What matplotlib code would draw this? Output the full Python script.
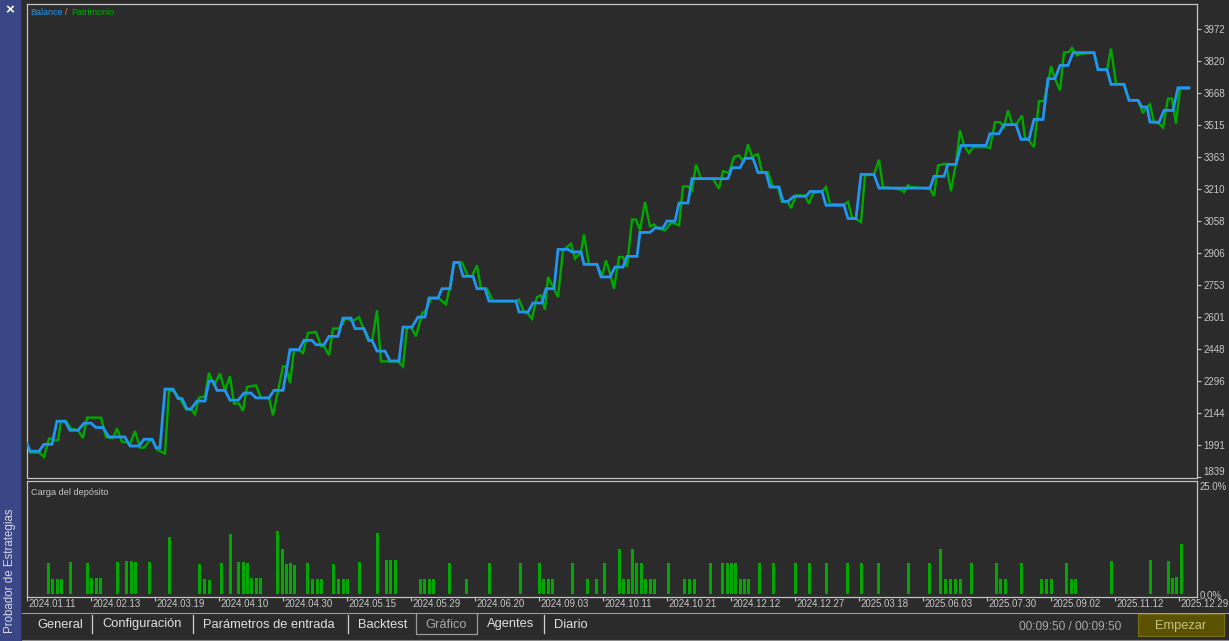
import matplotlib
matplotlib.use("Agg")
import numpy as np
import matplotlib.pyplot as plt
from matplotlib.patches import Rectangle
from matplotlib.lines import Line2D

W, H = 1229, 641

# balance curve: position along the tester axis, account value
balance_pos = [0, 3, 12, 17, 25, 30, 38, 43, 51, 57, 64, 69, 76, 82, 98, 103, 112, 117, 125, 129, 133,
               138, 146, 151, 155, 160, 164, 170, 178, 182, 186, 190, 198, 203, 211, 217, 224, 229, 242,
               247, 256, 263, 272, 277, 285, 289, 297, 302, 311, 316, 324, 328, 337, 342, 345, 350, 358,
               363, 372, 376, 385, 391, 398, 402, 411, 415, 423, 427, 432, 436, 446, 450, 458, 462, 489,
               492, 501, 506, 515, 519, 527, 531, 541, 545, 554, 557, 570, 574, 583, 588, 596, 600, 610,
               613, 623, 628, 636, 640, 648, 652, 661, 665, 701, 705, 713, 718, 726, 731, 739, 743, 752,
               756, 761, 767, 779, 783, 795, 799, 817, 821, 829, 834, 847, 852, 903, 907, 917, 921, 929,
               934, 959, 963, 972, 977, 989, 994, 1002, 1007, 1016, 1021, 1028, 1033, 1041, 1046, 1067,
               1071, 1080, 1084, 1097, 1102, 1111, 1115, 1120, 1123, 1132, 1137, 1146, 1151, 1162]
balance_val = [2000, 1963, 1963, 1996, 1996, 2106, 2106, 2063, 2063, 2097, 2097, 2076, 2076, 2031, 2031,
               1988, 1988, 2020, 2020, 1980, 1980, 2259, 2259, 2214, 2214, 2164, 2164, 2202, 2202, 2297,
               2297, 2253, 2253, 2206, 2206, 2240, 2240, 2217, 2217, 2253, 2253, 2447, 2447, 2491, 2491,
               2470, 2470, 2510, 2510, 2597, 2597, 2547, 2547, 2491, 2491, 2440, 2440, 2393, 2393, 2554,
               2554, 2602, 2602, 2693, 2693, 2737, 2737, 2862, 2862, 2796, 2796, 2737, 2737, 2678, 2678,
               2626, 2626, 2669, 2669, 2737, 2737, 2924, 2924, 2912, 2912, 2853, 2853, 2793, 2793, 2840,
               2840, 2891, 2891, 3005, 3005, 3026, 3026, 3059, 3059, 3145, 3145, 3261, 3261, 3313, 3313,
               3358, 3358, 3290, 3290, 3221, 3221, 3153, 3153, 3177, 3177, 3200, 3200, 3134, 3134, 3071,
               3071, 3281, 3281, 3216, 3216, 3272, 3272, 3329, 3329, 3419, 3419, 3475, 3475, 3518, 3518,
               3448, 3448, 3543, 3543, 3737, 3737, 3800, 3800, 3861, 3861, 3780, 3780, 3710, 3710, 3634,
               3634, 3602, 3602, 3530, 3530, 3586, 3586, 3694, 3694]

# equity curve
equity_pos = [0, 3, 12, 17, 22, 26, 27, 31, 34, 39, 44, 51, 56, 60, 74, 79, 86, 90, 95, 100, 103, 108,
              113, 117, 123, 126, 130, 138, 142, 147, 154, 159, 164, 168, 172, 178, 182, 187, 193, 198,
              203, 207, 212, 216, 220, 229, 234, 242, 246, 256, 259, 263, 267, 272, 276, 281, 289, 294,
              297, 302, 306, 312, 319, 324, 327, 332, 341, 345, 350, 354, 371, 376, 380, 384, 389, 395,
              399, 404, 412, 419, 424, 427, 435, 441, 445, 450, 454, 460, 466, 489, 492, 497, 501, 505,
              510, 514, 518, 521, 527, 531, 536, 544, 548, 554, 557, 562, 570, 575, 579, 583, 587, 592,
              596, 600, 605, 609, 613, 618, 623, 627, 631, 638, 644, 648, 652, 656, 661, 665, 669, 674,
              686, 692, 696, 702, 707, 712, 717, 721, 725, 731, 735, 741, 746, 751, 755, 761, 764, 769,
              778, 782, 786, 795, 799, 803, 817, 821, 825, 830, 834, 838, 847, 852, 856, 874, 877, 881,
              884, 903, 907, 911, 919, 924, 929, 933, 937, 942, 946, 959, 963, 968, 973, 977, 981, 985,
              989, 995, 998, 1002, 1007, 1012, 1017, 1021, 1024, 1028, 1033, 1037, 1042, 1045, 1050,
              1054, 1067, 1071, 1080, 1084, 1089, 1097, 1102, 1111, 1116, 1119, 1123, 1127, 1132, 1136,
              1141, 1145, 1149, 1153, 1162]
equity_val = [2000, 1957, 1957, 1936, 2023, 2023, 2015, 2015, 2106, 2106, 2071, 2063, 2026, 2123, 2123,
              2031, 2026, 2071, 2007, 2007, 1996, 2059, 1980, 1980, 2015, 2015, 1971, 1952, 2250, 2250,
              2206, 2163, 2163, 2139, 2218, 2225, 2337, 2277, 2333, 2253, 2320, 2190, 2190, 2155, 2269,
              2277, 2217, 2217, 2134, 2367, 2367, 2288, 2444, 2444, 2431, 2526, 2531, 2463, 2463, 2420,
              2547, 2547, 2597, 2586, 2586, 2602, 2491, 2486, 2634, 2391, 2391, 2367, 2554, 2554, 2510,
              2618, 2634, 2690, 2690, 2663, 2769, 2862, 2862, 2796, 2796, 2848, 2737, 2737, 2678, 2678,
              2685, 2626, 2618, 2594, 2697, 2705, 2637, 2793, 2737, 2697, 2920, 2951, 2880, 2912, 2996,
              2853, 2853, 2793, 2872, 2809, 2737, 2888, 2888, 2840, 3066, 3066, 3015, 3150, 3034, 3043,
              3023, 3015, 3050, 3047, 3039, 3224, 3224, 3205, 3328, 3261, 3261, 3213, 3297, 3288, 3364,
              3372, 3340, 3424, 3367, 3377, 3292, 3292, 3221, 3221, 3150, 3150, 3121, 3181, 3181, 3142,
              3192, 3200, 3221, 3139, 3139, 3150, 3078, 3066, 3054, 3277, 3280, 3351, 3221, 3209, 3197,
              3229, 3221, 3213, 3178, 3324, 3332, 3202, 3335, 3491, 3419, 3383, 3411, 3411, 3407, 3530,
              3530, 3507, 3586, 3523, 3518, 3562, 3459, 3443, 3411, 3630, 3630, 3713, 3796, 3737, 3681,
              3861, 3864, 3883, 3848, 3856, 3861, 3780, 3780, 3880, 3713, 3710, 3634, 3634, 3573, 3599,
              3615, 3530, 3523, 3504, 3642, 3642, 3523, 3689, 3689]

# deposit load per deal, percent
load_pos = [21, 25, 30, 34, 43, 60, 64, 69, 73, 90, 99, 104, 108, 122, 142, 172, 177, 182, 194, 203, 211,
            216, 220, 224, 229, 233, 250, 255, 259, 263, 267, 280, 285, 290, 294, 306, 311, 316, 320, 332,
            350, 359, 363, 368, 393, 397, 402, 406, 422, 439, 462, 493, 512, 516, 521, 525, 545, 560, 569,
            577, 592, 596, 601, 605, 609, 614, 618, 623, 627, 641, 657, 662, 667, 683, 695, 700, 704, 708,
            713, 717, 721, 732, 746, 768, 782, 799, 820, 834, 851, 881, 902, 913, 918, 923, 928, 933, 944,
            969, 973, 978, 994, 1014, 1019, 1024, 1039, 1044, 1048, 1084, 1123, 1141, 1145, 1149, 1154]
load_pct = [6.9, 3.3, 3.3, 3.3, 7.1, 6.9, 3.5, 3.5, 3.5, 7.1, 7.3, 7.3, 7.1, 7.1, 12.6, 6.6, 3.3, 3.1,
            6.9, 13.3, 7.1, 7.1, 6.9, 3.5, 3.5, 3.5, 13.9, 10.0, 6.6, 6.9, 6.4, 6.9, 3.3, 3.3, 3.3, 6.6,
            3.3, 3.3, 3.3, 7.1, 13.5, 7.5, 7.5, 7.5, 3.3, 3.3, 3.3, 3.3, 6.9, 3.3, 6.9, 6.9, 6.9, 3.3,
            3.3, 3.3, 6.9, 3.3, 3.3, 6.9, 10.0, 3.3, 3.3, 10.0, 6.9, 6.9, 3.3, 3.3, 3.3, 6.9, 3.3, 3.3,
            3.3, 6.9, 6.9, 6.9, 6.9, 6.9, 3.3, 3.3, 3.3, 6.9, 6.9, 6.9, 6.9, 6.9, 6.9, 6.9, 6.9, 6.9,
            6.9, 10.0, 3.3, 3.3, 3.3, 3.3, 6.9, 6.9, 3.3, 3.3, 6.9, 3.3, 3.3, 3.3, 6.9, 3.3, 3.3, 7.3,
            7.5, 7.3, 3.5, 3.8, 11.1]

y_labels = ["1839", "1991", "2144", "2296", "2448", "2601", "2753", "2906", "3058", "3210", "3363",
            "3515", "3668", "3820", "3972"]
date_labels = ["2024.01.11", "2024.02.13", "2024.03.19", "2024.04.10", "2024.04.30", "2024.05.15",
               "2024.05.29", "2024.06.20", "2024.09.03", "2024.10.11", "2024.10.21", "2024.12.12",
               "2024.12.27", "2025.03.18", "2025.06.03", "2025.07.30", "2025.09.02", "2025.11.12",
               "2025.12.29"]
tab_names = ["General", "Configuración", "Parámetros de entrada", "Backtest", "Gráfico", "Agentes", "Diario"]

BG = "#2b2b2b"
FRAME = "#c4c4c4"
TXT = "#c8c8c8"
BLUE = "#2196f0"
GREEN = "#00a800"
FONT = "Liberation Sans"
plt.rcParams["font.family"] = FONT


def box(l, t, r, b):
    # pixel box -> figure rect
    return [l / W, 1 - b / H, (r - l) / W, (b - t) / H]


fig = plt.figure(figsize=(W / 100, H / 100), dpi=100, facecolor=BG)

# ---- balance / equity panel
ax = fig.add_axes(box(26.5, 3.5, 1197, 477.5), facecolor=BG)
ax.plot(equity_pos, equity_val, color=GREEN, lw=1.7, solid_joinstyle="miter", zorder=2)
ax.plot(balance_pos, balance_val, color=BLUE, lw=2.0, solid_joinstyle="miter", zorder=3)
ax.set_xlim(-0.5, 1170)
ax.set_ylim(1838, 4095)
ax.set_yticks(np.linspace(1839, 3972, len(y_labels)))
ax.set_yticklabels(y_labels)
ax.yaxis.tick_right()
ax.tick_params(axis="y", colors=FRAME, labelcolor=TXT, labelsize=7.0, length=3, width=0.8, pad=1.5)
ax.set_xticks([])
for s in ax.spines.values():
    s.set_color(FRAME)
    s.set_linewidth(0.9)
# bottom tick label sits on the panel edge, lift it a little
ax.get_yticklabels()[0].set_va("bottom")
ax.text(4 / 1170, 0.982, "Balance", transform=ax.transAxes, color=BLUE, fontsize=6.5, va="center")
ax.text(38 / 1170, 0.982, "/", transform=ax.transAxes, color="#c09060", fontsize=6.5, va="center")
ax.text(45 / 1170, 0.982, "Patrimonio", transform=ax.transAxes, color=GREEN, fontsize=6.5, va="center")

# ---- deposit load panel
ax2 = fig.add_axes(box(26.5, 480.5, 1197, 596.5), facecolor=BG)
ax2.bar(load_pos, load_pct, width=3, color="#00a800", align="center", zorder=2)
ax2.set_xlim(-0.5, 1170)
ax2.set_ylim(-0.55, 25.1)
ax2.set_yticks([])
ticks = np.arange(len(date_labels)) * 64
ax2.set_xticks(ticks)
ax2.set_xticklabels([])
ax2.tick_params(axis="x", colors=FRAME, length=3, width=0.8)
for s in ax2.spines.values():
    s.set_color(FRAME)
    s.set_linewidth(0.9)
for t, lab in zip(ticks, date_labels):
    ax2.text(t + 1.5, -0.065, lab, transform=ax2.get_xaxis_transform(), color=TXT,
             fontsize=6.9, ha="left", va="center", clip_on=False)
ax2.text(4 / 1170, 0.9, "Carga del depósito", transform=ax2.transAxes, color=TXT, fontsize=6.6, va="center")
fig.text(1200 / W, 1 - 482 / H, "25.0%", color=TXT, fontsize=6.9, va="top")
fig.text(1200 / W, 1 - 596 / H, "0.0%", color=TXT, fontsize=6.9, va="center")

# ---- left side bar
fig.patches.append(Rectangle((0, 0), 20 / W, 1, transform=fig.transFigure, color="#3a4786", zorder=0))
fig.text(10 / W, 1 - 10 / H, "×", color="white", fontsize=11, ha="center", va="center", weight="bold")
fig.text(10 / W, 1 - 571 / H, "Probador de Estrategias", color="#d8d8e8", fontsize=8.3,
         rotation=90, ha="center", va="center")

# ---- bottom tab strip
fig.add_artist(Line2D([22 / W, 1], [1 - 612.5 / H] * 2, color="#9a9a9a", lw=0.8))
fig.add_artist(Line2D([22 / W, 1], [1 - 639.5 / H] * 2, color="#8a8a8a", lw=0.8))
tab_x = [37, 102, 203, 358, 425, 487, 554]
seps = [92, 193, 348, 544]
for x, name in zip(tab_x, tab_names):
    fig.text(x / W, 1 - 624.5 / H, name, color="#a8a8a8" if name == "Gráfico" else "#e0e0e0",
             fontsize=9.3, ha="left", va="center")
for x in seps:
    fig.add_artist(Line2D([x / W] * 2, [1 - 615 / H, 1 - 633 / H], color="#d0d0d0", lw=0.9))
fig.add_artist(Line2D([416 / W, 416 / W, 477 / W, 477 / W],
                      [1 - 612.5 / H, 1 - 634 / H, 1 - 634 / H, 1 - 612.5 / H], color="#9a9a9a", lw=0.9))
fig.text(1019 / W, 1 - 627 / H, "00:09:50 / 00:09:50", color="#a8a8a8", fontsize=8.6, ha="left", va="center")
fig.patches.append(Rectangle((1138 / W, 1 - 636 / H), 86 / W, 22 / H, transform=fig.transFigure,
                             facecolor="#5a5200", edgecolor="#7a7010", lw=0.8))
fig.text(1181 / W, 1 - 626 / H, "Empezar", color="#c8c080", fontsize=9.3, ha="center", va="center")

fig.savefig("out.png", dpi=100, facecolor=BG)
